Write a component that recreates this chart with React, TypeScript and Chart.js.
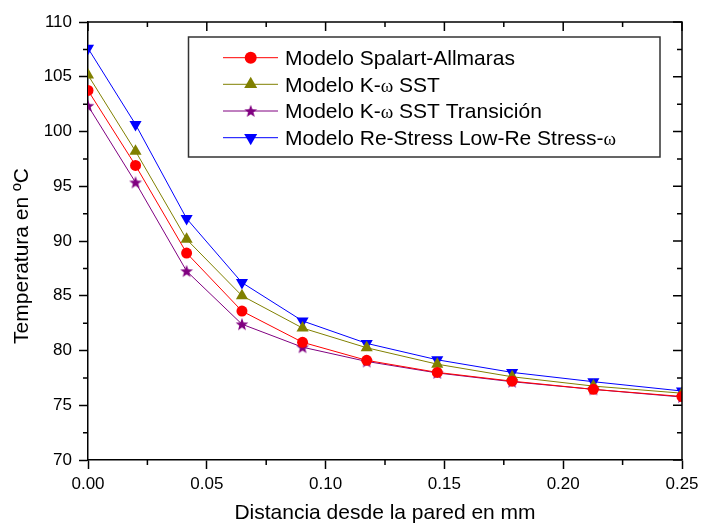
import React, { useEffect, useRef } from 'react';
import { Chart, registerables } from 'chart.js';

Chart.register(...registerables);

// ---- data ----
const distancia = [0, 0.02, 0.0415, 0.0648, 0.0903, 0.1173, 0.147, 0.1785, 0.2127, 0.25];
const spalartAllmaras = [103.75, 96.9, 88.9, 83.6, 80.75, 79.1, 78.0, 77.2, 76.45, 75.8];
const kOmegaSST = [105.15, 98.2, 90.15, 85.0, 82.05, 80.25, 78.75, 77.6, 76.75, 76.1];
const kOmegaSSTTransicion = [102.35, 95.35, 87.25, 82.4, 80.3, 79.0, 77.95, 77.15, 76.45, 75.75];
const reStressLowRe = [107.6, 100.65, 92.05, 86.2, 82.7, 80.65, 79.15, 78.0, 77.15, 76.3];

// legend labels, split where the omega glyph is shown
const legendParts: string[][] = [
  ['Modelo Spalart-Allmaras'],
  ['Modelo K-', 'ω', ' SST'],
  ['Modelo K-', 'ω', ' SST Transición'],
  ['Modelo Re-Stress Low-Re Stress-', 'ω'],
];
const seriesNames = [
  'Modelo Spalart-Allmaras',
  'Modelo K-ω SST',
  'Modelo K-ω SST Transición',
  'Modelo Re-Stress Low-Re Stress-ω',
];
const xTitle = 'Distancia desde la pared en mm';
const yTitle = 'Temperatura en ºC';

const SANS = "'Liberation Sans', Arial, sans-serif";
const SERIF = "'Liberation Serif', 'DejaVu Serif', serif";

const RED = '#FF0000';
const OLIVE = '#808000';
const PURPLE = '#800080';
const BLUE = '#0000FF';

function makeStar(color: string, size: number): HTMLCanvasElement {
  const c = document.createElement('canvas');
  c.width = size;
  c.height = size;
  const g = c.getContext('2d')!;
  const cx = size / 2, cy = size / 2 + 0.5;
  const R = size / 2 - 0.3, r = R * 0.42;
  g.beginPath();
  for (let i = 0; i < 10; i++) {
    const rad = i % 2 === 0 ? R : r;
    const a = -Math.PI / 2 + (i * Math.PI) / 5;
    const px = cx + rad * Math.cos(a);
    const py = cy + rad * Math.sin(a);
    if (i === 0) g.moveTo(px, py); else g.lineTo(px, py);
  }
  g.closePath();
  g.fillStyle = color;
  g.fill();
  return c;
}

function drawMarker(ctx: CanvasRenderingContext2D, kind: string, x: number, y: number, color: string, r: number, star?: HTMLCanvasElement) {
  ctx.save();
  ctx.fillStyle = color;
  ctx.beginPath();
  if (kind === 'circle') {
    ctx.arc(x, y, r, 0, Math.PI * 2);
    ctx.fill();
  } else if (kind === 'up' || kind === 'down') {
    const s = kind === 'up' ? 1 : -1;
    ctx.moveTo(x, y - s * r);
    ctx.lineTo(x + r * Math.sin(Math.PI * 2 / 3), y + s * r * 0.5);
    ctx.lineTo(x - r * Math.sin(Math.PI * 2 / 3), y + s * r * 0.5);
    ctx.closePath();
    ctx.fill();
  } else if (kind === 'star' && star) {
    ctx.drawImage(star, x - star.width / 2, y - star.height / 2);
  }
  ctx.restore();
}

export default function App() {
  const ref = useRef<HTMLCanvasElement | null>(null);

  useEffect(() => {
    if (!ref.current) return;
    const star = makeStar(PURPLE, 14);

    const markers = [
      { kind: 'circle', color: RED, r: 6 },
      { kind: 'up', color: OLIVE, r: 7.5 },
      { kind: 'star', color: PURPLE, r: 6 },
      { kind: 'down', color: BLUE, r: 7.5 },
    ];

    const framePlugin = {
      id: 'frameAndExtras',
      afterDraw(chart: any) {
        const ctx: CanvasRenderingContext2D = chart.ctx;
        const { left, right, top, bottom } = chart.chartArea;
        const xs = chart.scales.x;
        const ys = chart.scales.y;
        ctx.save();
        ctx.strokeStyle = '#000';
        ctx.lineWidth = 1.5;
        // top & right border
        ctx.beginPath();
        ctx.moveTo(left, top);
        ctx.lineTo(right, top);
        ctx.lineTo(right, bottom);
        ctx.stroke();

        const xMaj: number[] = xs.ticks.map((t: any) => t.value);
        const yMaj: number[] = ys.ticks.map((t: any) => t.value);
        const MAJ = 9, MIN = 5;
        ctx.beginPath();
        xMaj.forEach((v, i) => {
          const px = xs.getPixelForValue(v);
          ctx.moveTo(px, top); ctx.lineTo(px, top + MAJ);
          if (i < xMaj.length - 1) {
            const mp = xs.getPixelForValue((v + xMaj[i + 1]) / 2);
            ctx.moveTo(mp, top); ctx.lineTo(mp, top + MIN);
            ctx.moveTo(mp, bottom); ctx.lineTo(mp, bottom + MIN);
          }
        });
        yMaj.forEach((v, i) => {
          const py = ys.getPixelForValue(v);
          ctx.moveTo(right, py); ctx.lineTo(right - MAJ, py);
          if (i < yMaj.length - 1) {
            const mp = ys.getPixelForValue((v + yMaj[i + 1]) / 2);
            ctx.moveTo(right, mp); ctx.lineTo(right - MIN, mp);
            ctx.moveTo(left, mp); ctx.lineTo(left - MIN, mp);
          }
        });
        ctx.stroke();

        // y axis title
        ctx.save();
        ctx.translate(22, 256);
        ctx.rotate(-Math.PI / 2);
        ctx.fillStyle = '#000';
        ctx.font = `21px ${SANS}`;
        ctx.textAlign = 'center';
        ctx.textBaseline = 'middle';
        ctx.fillText(yTitle, 0, 0);
        ctx.restore();

        // legend box
        const bx = 188.5, by = 37, bw = 471.5, bh = 120;
        ctx.fillStyle = '#fff';
        ctx.fillRect(bx, by, bw, bh);
        ctx.strokeStyle = '#333';
        ctx.lineWidth = 1.5;
        ctx.strokeRect(bx, by, bw, bh);

        const rowY = [57.7, 84.3, 111, 137.7];
        const baseY = [65, 91.7, 118.3, 145];
        chart.data.datasets.forEach((ds: any, i: number) => {
          const y = rowY[i];
          ctx.strokeStyle = ds.borderColor;
          ctx.lineWidth = 1;
          ctx.beginPath();
          ctx.moveTo(223, y);
          ctx.lineTo(278, y);
          ctx.stroke();
          const m = markers[i];
          drawMarker(ctx, m.kind, 250.7, y, m.color, m.r, star);
          let tx = 285;
          ctx.fillStyle = '#000';
          ctx.textAlign = 'left';
          ctx.textBaseline = 'alphabetic';
          legendParts[i].forEach((part) => {
            ctx.font = part === 'ω' ? `19px ${SERIF}` : `21px ${SANS}`;
            ctx.fillText(part, tx, baseY[i]);
            tx += ctx.measureText(part).width;
          });
        });
        ctx.restore();
      },
    };

    const mk = (label: string, data: number[], color: string, style: any, radius: number, rotation = 0) => ({
      label,
      data: distancia.map((x, i) => ({ x, y: data[i] })),
      borderColor: color,
      backgroundColor: color,
      borderWidth: 1,
      pointStyle: style,
      pointRadius: radius,
      pointBorderWidth: 0,
      pointRotation: rotation,
      pointBackgroundColor: color,
      pointBorderColor: color,
      tension: 0,
      clip: 0,
    });

    const chart = new Chart(ref.current, {
      type: 'line',
      data: {
        datasets: [
          mk(seriesNames[0], spalartAllmaras, RED, 'circle', 5.5),
          mk(seriesNames[1], kOmegaSST, OLIVE, 'triangle', 7),
          mk(seriesNames[2], kOmegaSSTTransicion, PURPLE, star, 7),
          mk(seriesNames[3], reStressLowRe, BLUE, 'triangle', 7, 180),
        ],
      },
      options: {
        animation: false,
        responsive: false,
        events: [],
        layout: { padding: { top: 22, right: 19, left: 0, bottom: 0 } },
        plugins: { legend: { display: false }, tooltip: { enabled: false } },
        scales: {
          x: {
            type: 'linear',
            min: 0,
            max: 0.25,
            afterFit: (s: any) => { s.height = 67; s.paddingLeft = 0; s.paddingRight = 0; },
            ticks: {
              stepSize: 0.05,
              color: '#000',
              font: { family: SANS, size: 17 },
              padding: 5,
              maxRotation: 0,
              callback: (v: any) => Number(v).toFixed(2),
            },
            grid: { drawOnChartArea: false, drawTicks: true, tickLength: 9, tickWidth: 1.5, tickColor: '#000' },
            border: { display: true, color: '#000', width: 1.5 },
            title: { display: true, text: xTitle, color: '#000', font: { family: SANS, size: 21 }, padding: { top: 0, bottom: 1 } },
          },
          y: {
            type: 'linear',
            min: 70,
            max: 110,
            afterFit: (s: any) => { s.width = 88; s.paddingTop = 0; s.paddingBottom = 0; },
            ticks: {
              stepSize: 5,
              color: '#000',
              font: { family: SANS, size: 17 },
              padding: 7,
              callback: (v: any) => String(Math.round(Number(v))),
            },
            grid: { drawOnChartArea: false, drawTicks: true, tickLength: 9, tickWidth: 1.5, tickColor: '#000' },
            border: { display: true, color: '#000', width: 1.5 },
          },
        },
      },
      plugins: [framePlugin],
    } as any);

    return () => chart.destroy();
  }, []);

  return (
    <div style={{ position: 'absolute', left: 0, top: 0, width: 701, height: 527, background: '#fff' }}>
      <canvas ref={ref} width={701} height={527} style={{ display: 'block' }} />
    </div>
  );
}
